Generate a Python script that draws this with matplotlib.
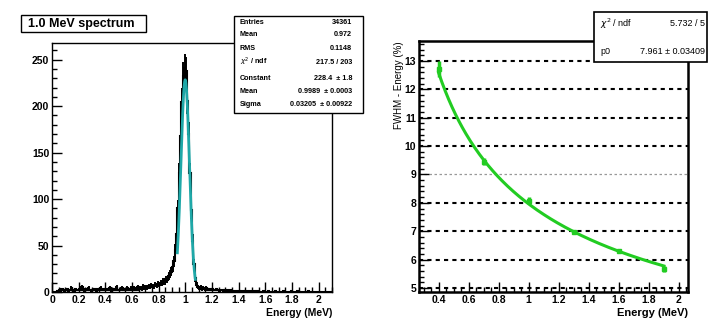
import numpy as np
import matplotlib
matplotlib.use("Agg")
import matplotlib.pyplot as plt
from matplotlib.ticker import MultipleLocator
from matplotlib.patches import Rectangle

plt.rcParams['font.family'] = ['Liberation Sans', 'DejaVu Sans']

# ---- left: 1.0 MeV spectrum, counts per 0.01 MeV bin (0.00 .. 2.10) ----
bin_width = 0.01
counts = [
    0, 0, 0, 0, 1, 2, 1, 3, 2, 1,
    2, 3, 1, 2, 4, 2, 1, 3, 2, 2,
    3, 2, 5, 2, 1, 3, 2, 4, 2, 1,
    2, 3, 2, 1, 3, 2, 4, 2, 3, 2,
    3, 2, 2, 4, 1, 3, 2, 3, 5, 2,
    2, 3, 4, 2, 3, 2, 4, 3, 2, 4,
    3, 4, 2, 3, 5, 3, 4, 3, 6, 4,
    5, 4, 6, 5, 7, 5, 6, 8, 7, 9,
    8, 10, 9, 12, 11, 14, 13, 17, 19, 22,
    27, 33, 45, 62, 90, 128, 168, 205, 232, 241,
    238, 206, 170, 128, 88, 55, 30, 15, 8, 5,
    4, 5, 3, 4, 3, 4, 3, 2, 3, 2,
    3, 2, 2, 3, 2, 1, 2, 2, 1, 2,
    2, 1, 1, 2, 1, 1, 0, 1, 1, 0,
    1, 0, 1, 1, 0, 1, 0, 0, 1, 0,
    0, 1, 0, 0, 1, 0, 0, 0, 1, 0,
    0, 0, 1, 0, 0, 0, 0, 1, 0, 0,
    0, 0, 0, 1, 0, 0, 0, 0, 0, 1,
    0, 0, 0, 0, 1, 0, 0, 0, 0, 0,
    0, 0, 1, 0, 0, 0, 0, 0, 0, 0,
    0, 0, 0, 0, 0, 0, 0, 0, 0, 0,
]
# gaussian fit parameters from the stats box
g_const, g_mean, g_sigma = 228.4, 0.9989, 0.03205
fit_range = (0.94, 1.075)

stats_left = [
    ("Entries", "34361"),
    ("Mean", "0.972"),
    ("RMS", "0.1148"),
    (r"$\chi^2$ / ndf", "217.5 / 203"),
    ("Constant", "228.4  \u00b1 1.8"),
    ("Mean", "0.9989  \u00b1 0.0003"),
    ("Sigma", "0.03205  \u00b1 0.00922"),
]

# ---- right: resolution vs energy ----
energy = [0.4, 0.7, 1.0, 1.3, 1.6, 1.9]
fwhm = [12.72, 9.45, 8.08, 6.98, 6.30, 5.66]
fwhm_err = [0.28, 0.12, 0.12, 0.07, 0.07, 0.10]
p0 = 7.961
stats_right = [(r"$\chi^2$ / ndf", "5.732 / 5"), ("p0", "7.961 \u00b1 0.03409")]

W, H = 727, 335
fig = plt.figure(figsize=(W / 100, H / 100), dpi=100)
fig.patch.set_facecolor('white')


def px_axes(x0, y0, x1, y1):
    return fig.add_axes([x0 / W, 1 - y1 / H, (x1 - x0) / W, (y1 - y0) / H])


def root_style(ax, lw):
    ax.tick_params(which='both', direction='in', top=False, right=False,
                   labelsize=7.5, pad=2, width=1)
    ax.tick_params(which='major', length=7)
    ax.tick_params(which='minor', length=3.5)
    for lab in ax.get_xticklabels() + ax.get_yticklabels():
        lab.set_fontweight('bold')
    for s in ax.spines.values():
        s.set_linewidth(lw)


# left panel
ax1 = px_axes(52, 43, 332, 292)
edges = np.arange(len(counts) + 1) * bin_width
centers = edges[:-1] + bin_width / 2
c = np.array(counts, dtype=float)
ax1.errorbar(centers, c, yerr=np.sqrt(c), fmt='none', ecolor='black', elinewidth=1.4)
ax1.stairs(c, edges, color='black', linewidth=1.5)
xf = np.linspace(fit_range[0], fit_range[1], 200)
ax1.plot(xf, g_const * np.exp(-0.5 * ((xf - g_mean) / g_sigma) ** 2),
         color='#1fa8a8', linewidth=2)
ax1.set_xlim(0, 2.1)
ax1.set_ylim(0, 268)
ax1.xaxis.set_major_locator(MultipleLocator(0.2))
ax1.xaxis.set_minor_locator(MultipleLocator(0.05))
ax1.yaxis.set_major_locator(MultipleLocator(50))
ax1.yaxis.set_minor_locator(MultipleLocator(10))
ax1.set_xticks(np.arange(0, 2.01, 0.2))
ax1.set_xticklabels(['0', '0.2', '0.4', '0.6', '0.8', '1', '1.2', '1.4', '1.6', '1.8', '2'])
root_style(ax1, 1.0)
ax1.text(1.0, -0.065, "Energy (MeV)", transform=ax1.transAxes, ha='right', va='top',
         fontsize=7.5, fontweight='bold')

# title box
fig.patches.append(Rectangle((21 / W, 1 - 32 / H), 125 / W, 17 / H, transform=fig.transFigure,
                             facecolor='white', edgecolor='black', linewidth=1.0))
fig.text(28 / W, 1 - 23.5 / H, "1.0 MeV spectrum", ha='left', va='center',
         fontsize=9, fontweight='bold')

# left stats box
fig.patches.append(Rectangle((234 / W, 1 - 113 / H), 129 / W, 97 / H, transform=fig.transFigure,
                             facecolor='white', edgecolor='black', linewidth=1.0, zorder=5))
row_y = [22, 35, 49, 62, 78, 92, 105]
for (lab, val), yy in zip(stats_left, row_y):
    fig.text(240 / W, 1 - yy / H, lab, ha='left', va='center', fontsize=5.2,
             fontweight='bold', zorder=6)
    fig.text(352 / W, 1 - yy / H, val, ha='right', va='center', fontsize=5.2,
             fontweight='bold', zorder=6)

# right panel
ax2 = px_axes(419, 41, 688, 292)
for yv in range(5, 14):
    if yv == 9:
        ax2.axhline(yv, color='#999999', linewidth=0.9, linestyle=(0, (2, 2)), zorder=1)
    else:
        ax2.axhline(yv, color='black', linewidth=1.5, linestyle=(0, (2, 2)), zorder=1)
ef = np.linspace(min(energy), max(energy), 200)
ax2.plot(ef, p0 / np.sqrt(ef), color='#22cc22', linewidth=2.2, zorder=3)
ax2.errorbar(energy, fwhm, yerr=fwhm_err, fmt='s', color='#22cc22', markersize=2.5,
             elinewidth=2.5, capsize=0, zorder=4)
ax2.set_xlim(0.27, 2.06)
ax2.set_ylim(4.86, 13.7)
ax2.xaxis.set_major_locator(MultipleLocator(0.2))
ax2.xaxis.set_minor_locator(MultipleLocator(0.05))
ax2.yaxis.set_major_locator(MultipleLocator(1))
ax2.yaxis.set_minor_locator(MultipleLocator(0.2))
ax2.set_xticks(np.arange(0.4, 2.01, 0.2))
ax2.set_xticklabels(['0.4', '0.6', '0.8', '1', '1.2', '1.4', '1.6', '1.8', '2'])
root_style(ax2, 1.8)
ax2.text(1.0, -0.065, "Energy (MeV)", transform=ax2.transAxes, ha='right', va='top',
         fontsize=8, fontweight='bold')
ax2.text(-0.075, 1.0, "FWHM - Energy (%)", transform=ax2.transAxes, ha='center', va='top',
         rotation=90, fontsize=7)

# right stats box
fig.patches.append(Rectangle((594 / W, 1 - 62 / H), 113 / W, 50 / H, transform=fig.transFigure,
                             facecolor='white', edgecolor='black', linewidth=1.2, zorder=5))
for (lab, val), yy in zip(stats_right, [24, 51]):
    fig.text(600 / W, 1 - yy / H, lab, ha='left', va='center', fontsize=6.5, zorder=6)
    fig.text(705 / W, 1 - yy / H, val, ha='right', va='center', fontsize=6.5, zorder=6)

fig.savefig("out.png", dpi=100, facecolor='white')
